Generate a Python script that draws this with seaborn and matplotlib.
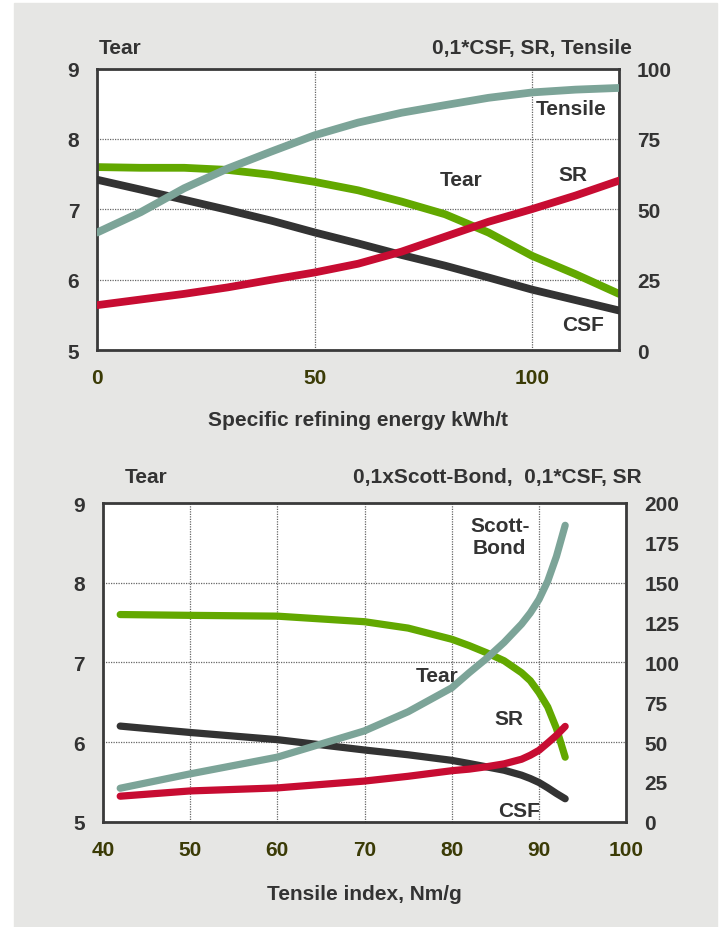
import numpy as np
import pandas as pd
import matplotlib.pyplot as plt
import seaborn as sns
from matplotlib.patches import Rectangle

sns.set_style('white')
plt.rcParams['font.family'] = ['Liberation Sans', 'DejaVu Sans']
plt.rcParams['font.weight'] = 'bold'

# upper chart: values vs specific refining energy (kWh/t)
energy = [0, 10, 20, 30, 40, 50, 60, 70, 80, 90, 100, 110, 120]
tear_e = [7.60, 7.59, 7.59, 7.56, 7.49, 7.39, 7.27, 7.11, 6.93, 6.67, 6.34, 6.08, 5.80]
tensile_e = [41.8, 49.0, 57.5, 64.5, 70.5, 76.3, 80.8, 84.3, 87.0, 89.6, 91.5, 92.5, 93.1]
sr_e = [16.0, 18.0, 20.0, 22.3, 25.0, 27.6, 30.7, 35.0, 40.3, 45.6, 50.1, 54.9, 60.2]
csf_e = [60.5, 57.0, 53.4, 49.8, 46.0, 41.8, 37.9, 33.8, 30.0, 25.8, 21.5, 17.8, 14.1]  # 0,1*CSF

# lower chart: values vs tensile index (Nm/g)
tens_idx = [42, 50, 60, 70, 75, 80, 82, 84, 86, 88, 89, 90, 91, 92, 93]
tear_t = [7.60, 7.59, 7.58, 7.51, 7.43, 7.29, 7.21, 7.12, 7.02, 6.87, 6.77, 6.62, 6.44, 6.17, 5.81]
scott_t = [21, 30, 40.5, 57, 69, 84, 93.5, 102.5, 112.5, 124, 131, 139.5, 151, 166.5, 186]  # 0,1 x Scott-Bond
sr_t = [16, 19.3, 21.2, 25.5, 28.5, 32, 33, 34.5, 36.3, 39.2, 41.7, 44.8, 49.4, 54.2, 59.8]
csf_t = [60, 56, 51.5, 45, 42, 38.5, 36.5, 34.4, 32.3, 29.2, 27.1, 24.6, 21.3, 17.7, 14.4]

GREEN = '#62a800'
SAGE = '#7ca498'
RED = '#c70c32'
DARK = '#333333'
OLIVE = '#3b3b06'
FS = 15

fig = plt.figure(figsize=(7.23, 9.28), dpi=100, facecolor='white')
fig.patches.append(Rectangle((14 / 723, 0), 703 / 723, 924 / 928, transform=fig.transFigure,
                             color='#e6e6e4', zorder=-10))


def setup(ax, ax2, xlim, xticks, rlim, rticks):
    ax.set_facecolor('white')
    ax.set_xlim(*xlim)
    ax.set_ylim(5, 9)
    ax2.set_ylim(*rlim)
    ax.set_xticks(xticks)
    ax.set_yticks([5, 6, 7, 8, 9])
    ax2.set_yticks(rticks)
    ax.grid(True, color='#666666', linestyle=(0, (1, 1)), linewidth=0.9)
    ax.tick_params(axis='x', length=0, pad=13, labelsize=FS, labelcolor=OLIVE)
    ax.tick_params(axis='y', length=0, pad=13, labelsize=FS, labelcolor=DARK)
    ax2.tick_params(axis='y', length=0, pad=13, labelsize=FS, labelcolor=DARK)
    for s in ax.spines.values():
        s.set_color('#3a3a3a')
        s.set_linewidth(2)
        s.set_zorder(5)
    for s in ax2.spines.values():
        s.set_visible(False)
    ax.set_ylabel('')
    ax2.set_ylabel('')


def draw(ax, x, y, color, lw):
    sns.lineplot(x=x, y=y, ax=ax, color=color, linewidth=lw, solid_capstyle='round', legend=False)


# ---- upper chart
ax = fig.add_axes([97.3 / 723, 1 - 351.2 / 928, 521.7 / 723, 281.7 / 928])
ax2 = ax.twinx()
draw(ax, energy, tear_e, GREEN, 5.6)
draw(ax2, energy, csf_e, DARK, 5.6)
draw(ax2, energy, sr_e, RED, 5.6)
draw(ax2, energy, tensile_e, SAGE, 5.6)
setup(ax, ax2, (0, 120), [0, 50, 100], (0, 100), [0, 25, 50, 75, 100])

ax.text(109.1, 8.43, 'Tensile', ha='center', va='center', fontsize=FS, color=DARK, zorder=6)
ax.text(83.8, 7.43, 'Tear', ha='center', va='center', fontsize=FS, color=DARK, zorder=6)
ax.text(109.5, 7.50, 'SR', ha='center', va='center', fontsize=FS, color=DARK, zorder=6)
ax.text(111.8, 5.37, 'CSF', ha='center', va='center', fontsize=FS, color=DARK, zorder=6)

ax.text(0.003, 1.073, 'Tear', transform=ax.transAxes, ha='left', va='center', fontsize=FS, color=DARK)
ax.text(1.025, 1.073, '0,1*CSF, SR, Tensile', transform=ax.transAxes, ha='right', va='center',
        fontsize=FS, color=DARK)
ax.set_xlabel('Specific refining energy kWh/t', fontsize=FS, color=DARK, fontweight='bold')
ax.xaxis.set_label_coords(0.5, -0.245)
ax.xaxis.label.set_verticalalignment('center')

# ---- lower chart
bx = fig.add_axes([102.75 / 723, 1 - 822.7 / 928, 523.5 / 723, 318.7 / 928])
bx2 = bx.twinx()
draw(bx, tens_idx, tear_t, GREEN, 5.2)
draw(bx2, tens_idx, csf_t, DARK, 5.2)
draw(bx2, tens_idx, sr_t, RED, 5.2)
draw(bx2, tens_idx, scott_t, SAGE, 5.2)
setup(bx, bx2, (40, 100), [40, 50, 60, 70, 80, 90, 100], (0, 200),
      [0, 25, 50, 75, 100, 125, 150, 175, 200])

bx.text(85.5, 8.58, 'Scott-\nBond', ha='center', va='center', fontsize=FS, color=DARK,
        linespacing=1.15, zorder=6)
bx.text(78.3, 6.83, 'Tear', ha='center', va='center', fontsize=FS, color=DARK, zorder=6)
bx.text(86.6, 6.30, 'SR', ha='center', va='center', fontsize=FS, color=DARK, zorder=6)
bx.text(87.7, 5.14, 'CSF', ha='center', va='center', fontsize=FS, color=DARK, zorder=6)

bx.text(0.0425, 1.082, 'Tear', transform=bx.transAxes, ha='left', va='center', fontsize=FS, color=DARK)
bx.text(1.03, 1.082, '0,1xScott-Bond,  0,1*CSF, SR', transform=bx.transAxes, ha='right',
        va='center', fontsize=FS, color=DARK)
bx.set_xlabel('Tensile index, Nm/g', fontsize=FS, color=DARK, fontweight='bold')
bx.xaxis.set_label_coords(0.5, -0.225)
bx.xaxis.label.set_verticalalignment('center')

fig.savefig('out.png', dpi=100, facecolor=fig.get_facecolor())
